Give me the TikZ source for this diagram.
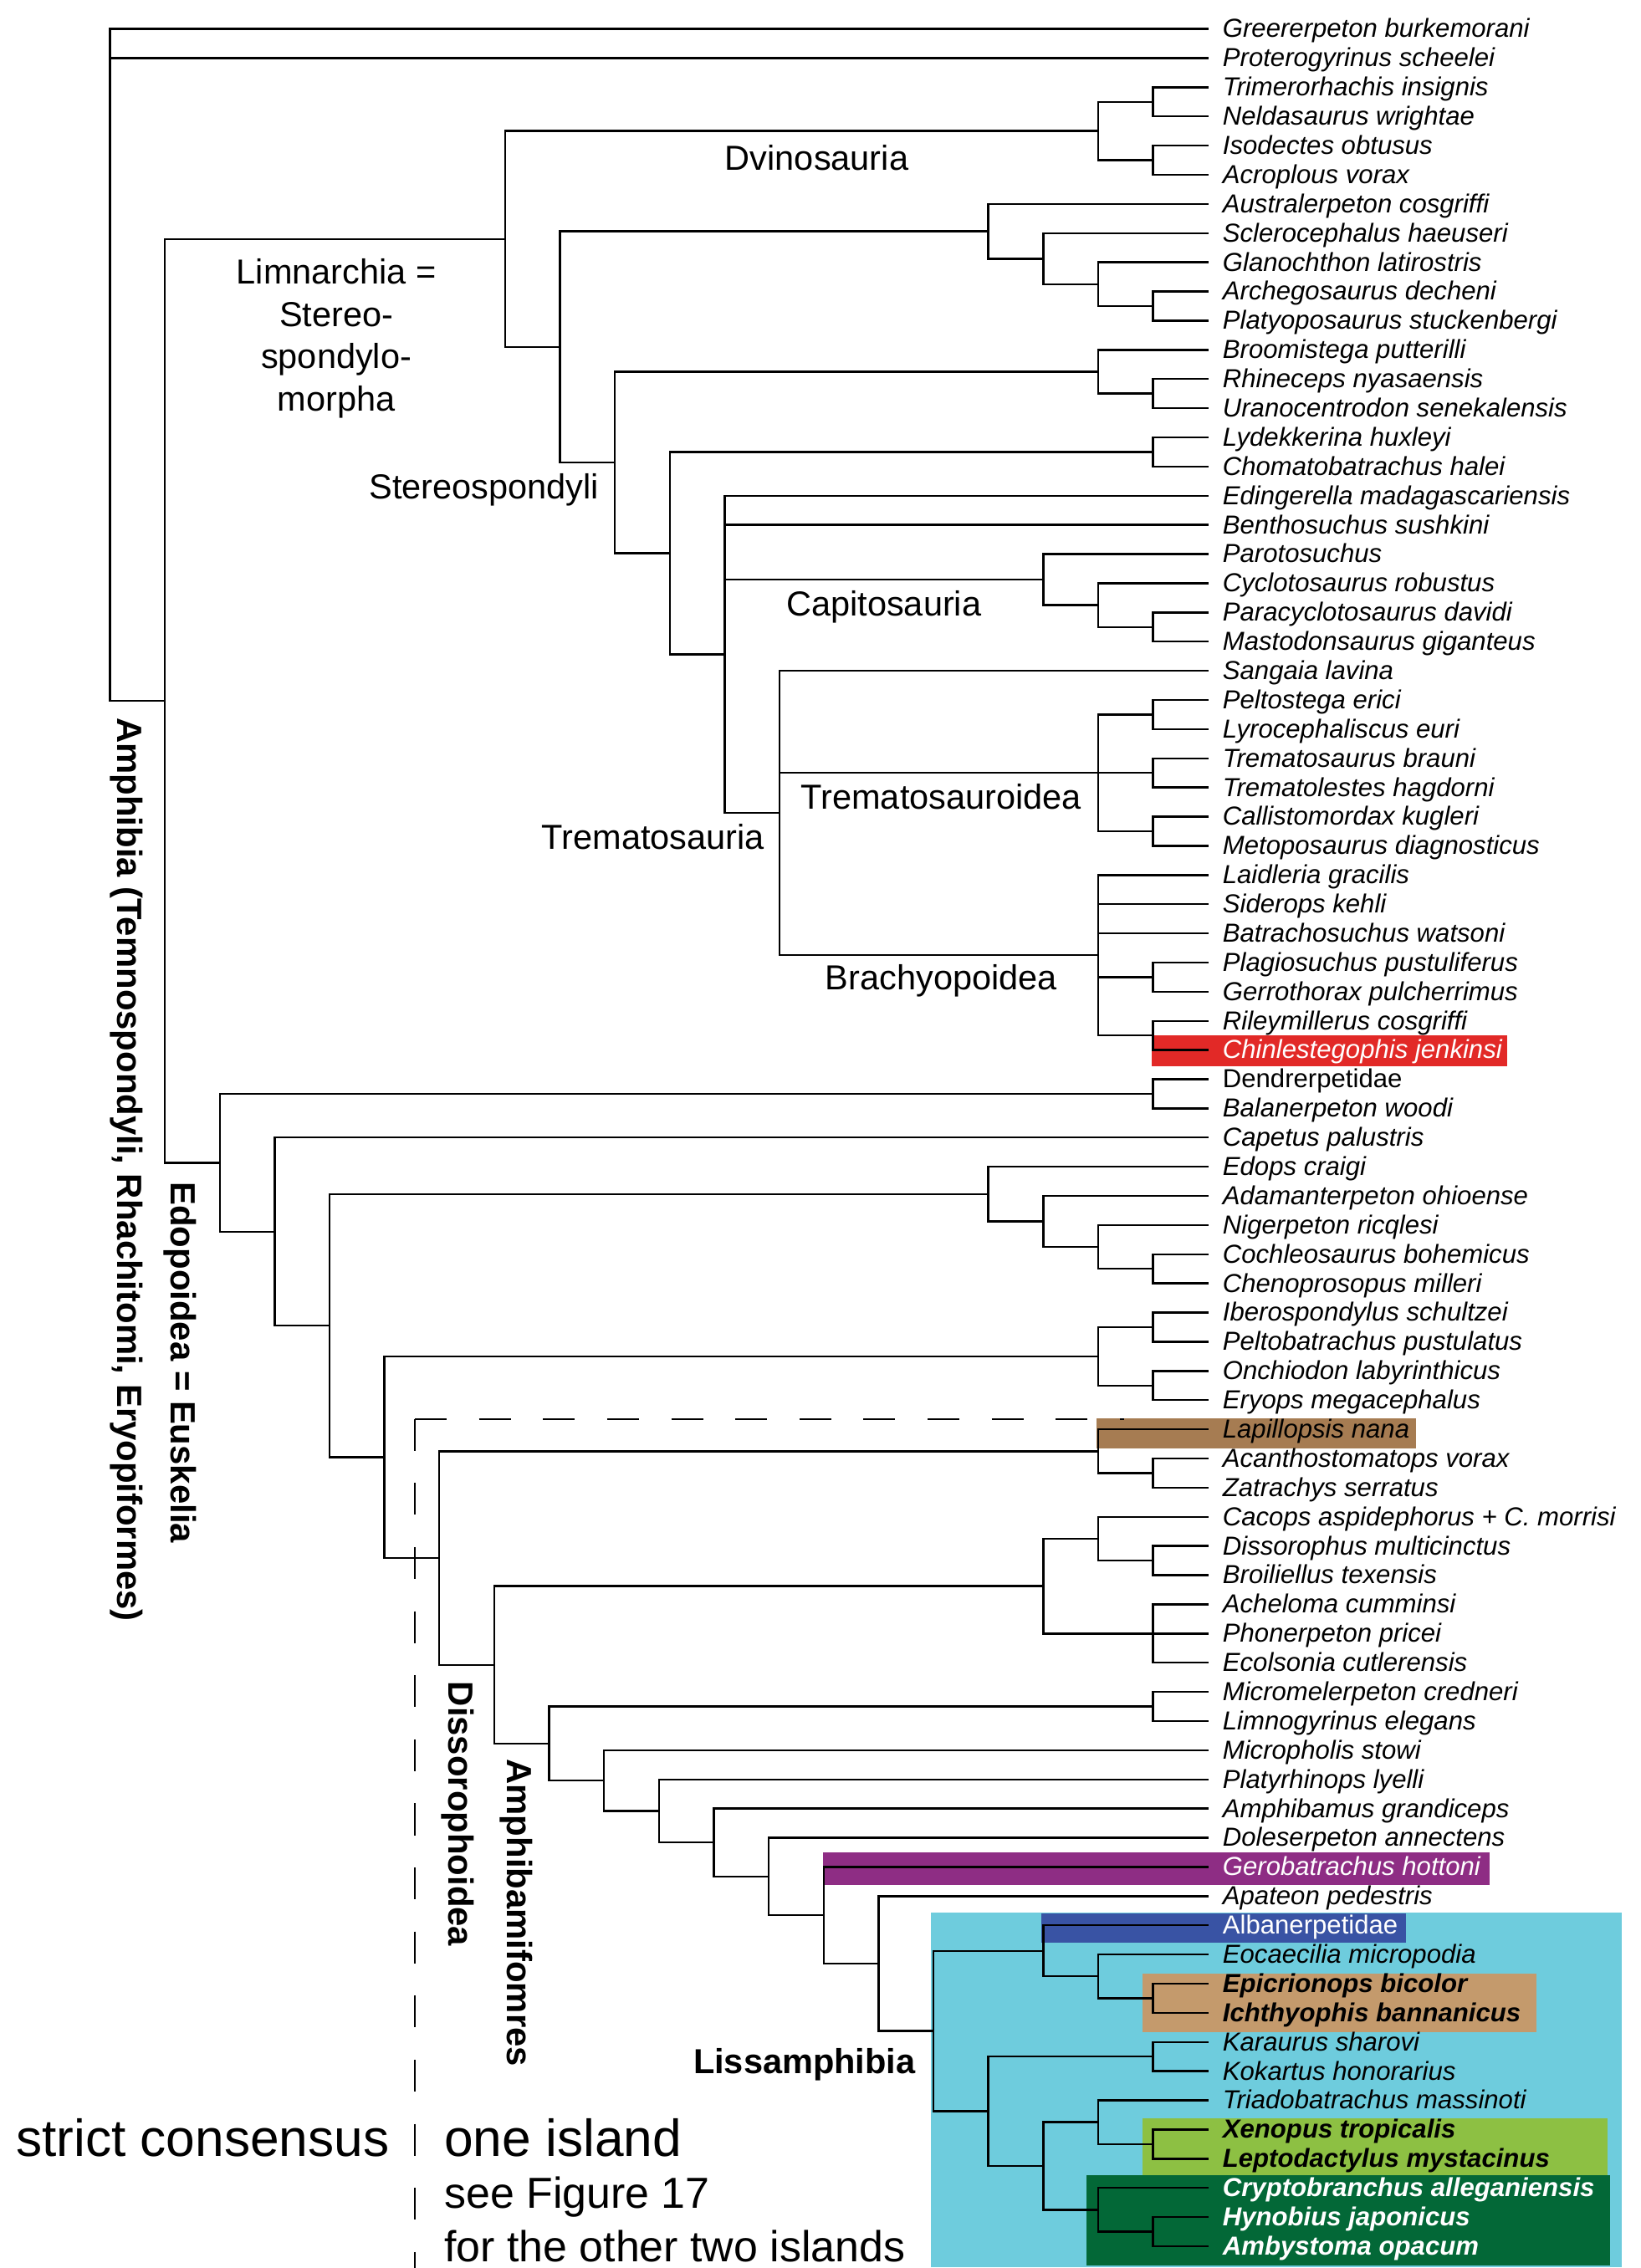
\documentclass[tikz,border=0pt]{standalone}
\usepackage{fontspec}
\setmainfont{Liberation Sans}
\usepackage{tikz}
\usetikzlibrary{backgrounds}
\usepackage{xcolor}

\definecolor{hiRed}{RGB}{226,41,39}
\definecolor{hiBrown}{RGB}{166,124,82}
\definecolor{hiPurple}{RGB}{142,45,132}
\definecolor{hiSky}{RGB}{110,204,221}
\definecolor{hiBlue}{RGB}{57,83,164}
\definecolor{hiTan}{RGB}{196,154,108}
\definecolor{hiLime}{RGB}{141,192,67}
\definecolor{hiForest}{RGB}{3,104,55}

\begin{document}
\begin{tikzpicture}[
  x=1pt, y=-1pt,
  taxon/.style={anchor=west,inner xsep=10pt,inner ysep=0pt,text height=15pt,text depth=3pt,font=\fontsize{18}{20}\selectfont\itshape},
  taxonUp/.style={taxon,font=\fontsize{18}{20}\selectfont\upshape},
  taxonBold/.style={taxon,font=\fontsize{18}{20}\selectfont\bfseries\itshape},
  cladeName/.style={anchor=base,inner sep=0pt,font=\fontsize{24}{29.3}\selectfont},
  sideName/.style={rotate=-90,anchor=base west,inner sep=0pt,font=\fontsize{24.2}{24}\selectfont\bfseries},
  noteBig/.style={anchor=base west,inner sep=0pt,font=\fontsize{36}{36}\selectfont},
  noteSmall/.style={anchor=base west,inner sep=0pt,font=\fontsize{30}{30}\selectfont},
  branch/.style={line width=1.4pt,line cap=rect,to path={|- (\tikztotarget)}},
  islandLine/.style={line width=1.4pt,dash pattern=on 22pt off 22.3pt}]

  \useasboundingbox (0,0) rectangle (1134,1568);

  % taxa
  \node[taxon] (tGreererpeton) at (835,20.00) {Greererpeton burkemorani};
  \node[taxon] (tProterogyrinus) at (835,40.17) {Proterogyrinus scheelei};
  \node[taxon] (tTrimerorhachis) at (835,60.34) {Trimerorhachis insignis};
  \node[taxon] (tNeldasaurus) at (835,80.51) {Neldasaurus wrightae};
  \node[taxon] (tIsodectes) at (835,100.68) {Isodectes obtusus};
  \node[taxon] (tAcroplous) at (835,120.85) {Acroplous vorax};
  \node[taxon] (tAustralerpeton) at (835,141.02) {Australerpeton cosgriffi};
  \node[taxon] (tSclerocephalus) at (835,161.19) {Sclerocephalus haeuseri};
  \node[taxon] (tGlanochthon) at (835,181.36) {Glanochthon latirostris};
  \node[taxon] (tArchegosaurus) at (835,201.53) {Archegosaurus decheni};
  \node[taxon] (tPlatyoposaurus) at (835,221.70) {Platyoposaurus stuckenbergi};
  \node[taxon] (tBroomistega) at (835,241.87) {Broomistega putterilli};
  \node[taxon] (tRhineceps) at (835,262.04) {Rhineceps nyasaensis};
  \node[taxon] (tUranocentrodon) at (835,282.21) {Uranocentrodon senekalensis};
  \node[taxon] (tLydekkerina) at (835,302.38) {Lydekkerina huxleyi};
  \node[taxon] (tChomatobatrachus) at (835,322.55) {Chomatobatrachus halei};
  \node[taxon] (tEdingerella) at (835,342.72) {Edingerella madagascariensis};
  \node[taxon] (tBenthosuchus) at (835,362.89) {Benthosuchus sushkini};
  \node[taxon] (tParotosuchus) at (835,383.06) {Parotosuchus};
  \node[taxon] (tCyclotosaurus) at (835,403.23) {Cyclotosaurus robustus};
  \node[taxon] (tParacyclotosaurus) at (835,423.40) {Paracyclotosaurus davidi};
  \node[taxon] (tMastodonsaurus) at (835,443.57) {Mastodonsaurus giganteus};
  \node[taxon] (tSangaia) at (835,463.74) {Sangaia lavina};
  \node[taxon] (tPeltostega) at (835,483.91) {Peltostega erici};
  \node[taxon] (tLyrocephaliscus) at (835,504.08) {Lyrocephaliscus euri};
  \node[taxon] (tTrematosaurus) at (835,524.25) {Trematosaurus brauni};
  \node[taxon] (tTrematolestes) at (835,544.42) {Trematolestes hagdorni};
  \node[taxon] (tCallistomordax) at (835,564.59) {Callistomordax kugleri};
  \node[taxon] (tMetoposaurus) at (835,584.76) {Metoposaurus diagnosticus};
  \node[taxon] (tLaidleria) at (835,604.93) {Laidleria gracilis};
  \node[taxon] (tSiderops) at (835,625.10) {Siderops kehli};
  \node[taxon] (tBatrachosuchus) at (835,645.27) {Batrachosuchus watsoni};
  \node[taxon] (tPlagiosuchus) at (835,665.44) {Plagiosuchus pustuliferus};
  \node[taxon] (tGerrothorax) at (835,685.61) {Gerrothorax pulcherrimus};
  \node[taxon] (tRileymillerus) at (835,705.78) {Rileymillerus cosgriffi};
  \node[taxon,text=white] (tChinlestegophis) at (835,725.95) {Chinlestegophis jenkinsi};
  \node[taxonUp] (tDendrerpetidae) at (835,746.12) {Dendrerpetidae};
  \node[taxon] (tBalanerpeton) at (835,766.29) {Balanerpeton woodi};
  \node[taxon] (tCapetus) at (835,786.46) {Capetus palustris};
  \node[taxon] (tEdops) at (835,806.63) {Edops craigi};
  \node[taxon] (tAdamanterpeton) at (835,826.80) {Adamanterpeton ohioense};
  \node[taxon] (tNigerpeton) at (835,846.97) {Nigerpeton ricqlesi};
  \node[taxon] (tCochleosaurus) at (835,867.14) {Cochleosaurus bohemicus};
  \node[taxon] (tChenoprosopus) at (835,887.31) {Chenoprosopus milleri};
  \node[taxon] (tIberospondylus) at (835,907.48) {Iberospondylus schultzei};
  \node[taxon] (tPeltobatrachus) at (835,927.65) {Peltobatrachus pustulatus};
  \node[taxon] (tOnchiodon) at (835,947.82) {Onchiodon labyrinthicus};
  \node[taxon] (tEryops) at (835,967.99) {Eryops megacephalus};
  \node[taxon] (tLapillopsis) at (835,988.16) {Lapillopsis nana};
  \node[taxon] (tAcanthostomatops) at (835,1008.33) {Acanthostomatops vorax};
  \node[taxon] (tZatrachys) at (835,1028.50) {Zatrachys serratus};
  \node[taxon] (tCacops) at (835,1048.67) {Cacops aspidephorus + C. morrisi};
  \node[taxon] (tDissorophus) at (835,1068.84) {Dissorophus multicinctus};
  \node[taxon] (tBroiliellus) at (835,1089.01) {Broiliellus texensis};
  \node[taxon] (tAcheloma) at (835,1109.18) {Acheloma cumminsi};
  \node[taxon] (tPhonerpeton) at (835,1129.35) {Phonerpeton pricei};
  \node[taxon] (tEcolsonia) at (835,1149.52) {Ecolsonia cutlerensis};
  \node[taxon] (tMicromelerpeton) at (835,1169.69) {Micromelerpeton credneri};
  \node[taxon] (tLimnogyrinus) at (835,1189.86) {Limnogyrinus elegans};
  \node[taxon] (tMicropholis) at (835,1210.03) {Micropholis stowi};
  \node[taxon] (tPlatyrhinops) at (835,1230.20) {Platyrhinops lyelli};
  \node[taxon] (tAmphibamus) at (835,1250.37) {Amphibamus grandiceps};
  \node[taxon] (tDoleserpeton) at (835,1270.54) {Doleserpeton annectens};
  \node[taxon,text=white] (tGerobatrachus) at (835,1290.71) {Gerobatrachus hottoni};
  \node[taxon] (tApateon) at (835,1310.88) {Apateon pedestris};
  \node[taxonUp,text=white] (tAlbanerpetidae) at (835,1331.05) {Albanerpetidae};
  \node[taxon] (tEocaecilia) at (835,1351.22) {Eocaecilia micropodia};
  \node[taxonBold] (tEpicrionops) at (835,1371.39) {Epicrionops bicolor};
  \node[taxonBold] (tIchthyophis) at (835,1391.56) {Ichthyophis bannanicus};
  \node[taxon] (tKaraurus) at (835,1411.73) {Karaurus sharovi};
  \node[taxon] (tKokartus) at (835,1431.90) {Kokartus honorarius};
  \node[taxon] (tTriadobatrachus) at (835,1452.07) {Triadobatrachus massinoti};
  \node[taxonBold] (tXenopus) at (835,1472.24) {Xenopus tropicalis};
  \node[taxonBold] (tLeptodactylus) at (835,1492.41) {Leptodactylus mystacinus};
  \node[taxonBold,text=white] (tCryptobranchus) at (835,1512.58) {Cryptobranchus alleganiensis};
  \node[taxonBold,text=white] (tHynobius) at (835,1532.75) {Hynobius japonicus};
  \node[taxonBold,text=white] (tAmbystoma) at (835,1552.92) {Ambystoma opacum};

  % highlighted taxa
  \begin{scope}[on background layer]
    \fill[hiRed] (796,716) rectangle (1042,737);
    \fill[hiBrown] (758,980.5) rectangle (979,1001.5);
    \fill[hiPurple] (569,1280.5) rectangle (1029.5,1303);
    \fill[hiSky] (643.7,1322) rectangle (1121,1567.5);
    \fill[hiBlue] (720,1323) rectangle (972,1343);
    \fill[hiTan] (790,1364.3) rectangle (1062,1404.8);
    \fill[hiLime] (790,1464.5) rectangle (1111,1503.7);
    \fill[hiForest] (751,1503.7) rectangle (1113,1566);
  \end{scope}

  % root and Limnarchia
  \coordinate (root) at (76,20.00);
  \coordinate (nAmphibia) at (113.95,484.54);
  \draw [branch] (root) edge (tGreererpeton.west) edge (tProterogyrinus.west) edge (nAmphibia);
  \coordinate (nLimnarchia) at (349.2,165.22);
  \coordinate (nEdopoidea) at (151.9,803.85);
  \draw [branch] (nAmphibia) edge (nLimnarchia) edge (nEdopoidea);
  \coordinate (nDvinosauria) at (759.1,90.60);
  \coordinate (nStereoA) at (387.2,239.83);
  \draw [branch] (nLimnarchia) edge (nDvinosauria) edge (nStereoA);
  \coordinate (nTrimero) at (797.05,70.43);
  \coordinate (nIsodectes) at (797.05,110.77);
  \draw [branch] (nDvinosauria) edge (nTrimero) edge (nIsodectes);
  \draw [branch] (nTrimero) edge (tTrimerorhachis.west) edge (tNeldasaurus.west);
  \draw [branch] (nIsodectes) edge (tIsodectes.west) edge (tAcroplous.west);
  \coordinate (nAustral) at (683.2,159.93);
  \coordinate (nStereospondyli) at (425.1,319.72);
  \draw [branch] (nStereoA) edge (nAustral) edge (nStereospondyli);
  \coordinate (nScleroc) at (721.15,178.84);
  \draw [branch] (nAustral) edge (tAustralerpeton.west) edge (nScleroc);
  \coordinate (nGlanoch) at (759.1,196.49);
  \draw [branch] (nScleroc) edge (tSclerocephalus.west) edge (nGlanoch);
  \coordinate (nArchego) at (797.05,211.62);
  \draw [branch] (nGlanoch) edge (tGlanochthon.west) edge (nArchego);
  \draw [branch] (nArchego) edge (tArchegosaurus.west) edge (tPlatyoposaurus.west);

  % Stereospondyli
  \coordinate (nBroomistega) at (759.1,257.00);
  \coordinate (nLydekkerina) at (463.1,382.43);
  \draw [branch] (nStereospondyli) edge (nBroomistega) edge (nLydekkerina);
  \coordinate (nRhineceps) at (797.05,272.13);
  \draw [branch] (nBroomistega) edge (tBroomistega.west) edge (nRhineceps);
  \draw [branch] (nRhineceps) edge (tRhineceps.west) edge (tUranocentrodon.west);
  \coordinate (nLydChom) at (797.05,312.47);
  \coordinate (nTrematoA) at (501.0,452.40);
  \draw [branch] (nLydekkerina) edge (nLydChom) edge (nTrematoA);
  \draw [branch] (nLydChom) edge (tLydekkerina.west) edge (tChomatobatrachus.west);
  \coordinate (nCapitosauria) at (721.15,400.71);
  \coordinate (nTrematosauria) at (539.0,562.07);
  \draw [branch] (nTrematoA) edge (tEdingerella.west) edge (tBenthosuchus.west) edge (nCapitosauria) edge (nTrematosauria);
  \coordinate (nCyclotos) at (759.1,418.36);
  \draw [branch] (nCapitosauria) edge (tParotosuchus.west) edge (nCyclotos);
  \coordinate (nParacyc) at (797.05,433.49);
  \draw [branch] (nCyclotos) edge (tCyclotosaurus.west) edge (nParacyc);
  \draw [branch] (nParacyc) edge (tParacyclotosaurus.west) edge (tMastodonsaurus.west);

  % Trematosauria
  \coordinate (nTrematosauroidea) at (759.1,534.34);
  \coordinate (nBrachyopoidea) at (759.1,660.40);
  \draw [branch] (nTrematosauria) edge (tSangaia.west) edge (nTrematosauroidea) edge (nBrachyopoidea);
  \coordinate (nPeltostega) at (797.05,494.00);
  \coordinate (nTrematosaurus) at (797.05,534.34);
  \coordinate (nCallisto) at (797.05,574.68);
  \draw [branch] (nTrematosauroidea) edge (nPeltostega) edge (nTrematosaurus) edge (nCallisto);
  \draw [branch] (nPeltostega) edge (tPeltostega.west) edge (tLyrocephaliscus.west);
  \draw [branch] (nTrematosaurus) edge (tTrematosaurus.west) edge (tTrematolestes.west);
  \draw [branch] (nCallisto) edge (tCallistomordax.west) edge (tMetoposaurus.west);
  \coordinate (nPlagiosuchus) at (797.05,675.53);
  \coordinate (nRileymillerus) at (797.05,715.87);
  \draw [branch] (nBrachyopoidea) edge (tLaidleria.west) edge (tSiderops.west) edge (tBatrachosuchus.west) edge (nPlagiosuchus) edge (nRileymillerus);
  \draw [branch] (nPlagiosuchus) edge (tPlagiosuchus.west) edge (tGerrothorax.west);
  \draw [branch] (nRileymillerus) edge (tRileymillerus.west) edge (tChinlestegophis.west);

  % Edopoidea
  \coordinate (nDendrerp) at (797.05,756.21);
  \coordinate (nK3) at (189.85,851.48);
  \draw [branch] (nEdopoidea) edge (nDendrerp) edge (nK3);
  \draw [branch] (nDendrerp) edge (tDendrerpetidae.west) edge (tBalanerpeton.west);
  \coordinate (nK4) at (227.8,916.50);
  \draw [branch] (nK3) edge (tCapetus.west) edge (nK4);
  \coordinate (nEdops) at (683.2,825.54);
  \coordinate (nK5) at (265.75,1007.45);
  \draw [branch] (nK4) edge (nEdops) edge (nK5);
  \coordinate (nAdamant) at (721.15,844.45);
  \draw [branch] (nEdops) edge (tEdops.west) edge (nAdamant);
  \coordinate (nNigerp) at (759.1,862.10);
  \draw [branch] (nAdamant) edge (tAdamanterpeton.west) edge (nNigerp);
  \coordinate (nCochleo) at (797.05,877.23);
  \draw [branch] (nNigerp) edge (tNigerpeton.west) edge (nCochleo);
  \draw [branch] (nCochleo) edge (tCochleosaurus.west) edge (tChenoprosopus.west);
  \coordinate (nEryops) at (759.1,937.74);
  \coordinate (nK6) at (303.7,1077.15);
  \draw [branch] (nK5) edge (nEryops) edge (nK6);
  \coordinate (nIberosp) at (797.05,917.57);
  \coordinate (nOnchiodon) at (797.05,957.91);
  \draw [branch] (nEryops) edge (nIberosp) edge (nOnchiodon);
  \draw [branch] (nIberosp) edge (tIberospondylus.west) edge (tPeltobatrachus.west);
  \draw [branch] (nOnchiodon) edge (tOnchiodon.west) edge (tEryops.west);

  % Dissorophoidea
  \coordinate (nLapillopsis) at (759.1,1003.29);
  \coordinate (nK7) at (341.65,1151.00);
  \draw [branch] (nK6) edge (nLapillopsis) edge (nK7);
  \coordinate (nAcantho) at (797.05,1018.42);
  \draw [branch] (nLapillopsis) edge (tLapillopsis.west) edge (nAcantho);
  \draw [branch] (nAcantho) edge (tAcanthostomatops.west) edge (tZatrachys.west);
  \coordinate (nDissorophidae) at (721.15,1096.58);
  \coordinate (nK8) at (379.6,1205.41);
  \draw [branch] (nK7) edge (nDissorophidae) edge (nK8);
  \coordinate (nCacops) at (759.1,1063.80);
  \coordinate (nAcheloma) at (797.05,1129.35);
  \draw [branch] (nDissorophidae) edge (nCacops) edge (nAcheloma);
  \coordinate (nDissorophus) at (797.05,1078.93);
  \draw [branch] (nCacops) edge (tCacops.west) edge (nDissorophus);
  \draw [branch] (nDissorophus) edge (tDissorophus.west) edge (tBroiliellus.west);
  \draw [branch] (nAcheloma) edge (tAcheloma.west) edge (tPhonerpeton.west) edge (tEcolsonia.west);
  \coordinate (nMicromel) at (797.05,1179.78);
  \coordinate (nK9) at (417.55,1231.03);
  \draw [branch] (nK8) edge (nMicromel) edge (nK9);
  \draw [branch] (nMicromel) edge (tMicromelerpeton.west) edge (tLimnogyrinus.west);
  \coordinate (nK10) at (455.5,1252.03);
  \draw [branch] (nK9) edge (tMicropholis.west) edge (nK10);
  \coordinate (nK11) at (493.45,1273.85);
  \draw [branch] (nK10) edge (tPlatyrhinops.west) edge (nK11);
  \coordinate (nK12) at (531.4,1297.33);
  \draw [branch] (nK11) edge (tAmphibamus.west) edge (nK12);
  \coordinate (nK13) at (569.35,1324.12);
  \draw [branch] (nK12) edge (tDoleserpeton.west) edge (nK13);
  \coordinate (nK14) at (607.3,1357.53);
  \draw [branch] (nK13) edge (tGerobatrachus.west) edge (nK14);

  % Lissamphibia
  \coordinate (nLissamphibia) at (645.25,1404.17);
  \draw [branch] (nK14) edge (tApateon.west) edge (nLissamphibia);
  \coordinate (nAlbanerp) at (721.15,1348.70);
  \coordinate (nBatrachia) at (683.2,1459.64);
  \draw [branch] (nLissamphibia) edge (nAlbanerp) edge (nBatrachia);
  \coordinate (nEocaecilia) at (759.1,1366.35);
  \draw [branch] (nAlbanerp) edge (tAlbanerpetidae.west) edge (nEocaecilia);
  \coordinate (nEpicrionops) at (797.05,1381.48);
  \draw [branch] (nEocaecilia) edge (tEocaecilia.west) edge (nEpicrionops);
  \draw [branch] (nEpicrionops) edge (tEpicrionops.west) edge (tIchthyophis.west);
  \coordinate (nKaraurus) at (797.05,1421.82);
  \coordinate (nBatrA) at (721.15,1497.46);
  \draw [branch] (nBatrachia) edge (nKaraurus) edge (nBatrA);
  \draw [branch] (nKaraurus) edge (tKaraurus.west) edge (tKokartus.west);
  \coordinate (nSalientia) at (759.1,1467.20);
  \coordinate (nCaudata) at (759.1,1527.71);
  \draw [branch] (nBatrA) edge (nSalientia) edge (nCaudata);
  \coordinate (nXenopus) at (797.05,1482.33);
  \draw [branch] (nSalientia) edge (tTriadobatrachus.west) edge (nXenopus);
  \draw [branch] (nXenopus) edge (tXenopus.west) edge (tLeptodactylus.west);
  \coordinate (nHynobius) at (797.05,1542.84);
  \draw [branch] (nCaudata) edge (tCryptobranchus.west) edge (nHynobius);
  \draw [branch] (nHynobius) edge (tHynobius.west) edge (tAmbystoma.west);

  % island of the strict consensus
  \coordinate (dashCorner) at (286.8,981);
  \coordinate (dashEnd) at (777,981);
  \coordinate (dashFoot) at (286.8,1568);
  \draw [islandLine] (dashCorner) -- (dashEnd);
  \draw [islandLine] (dashCorner) -- (dashFoot);

  % clade names
  \node[cladeName] (lDvinosauria) at (564.6,117.5) {Dvinosauria};
  \node[cladeName,align=center] (lLimnarchia) at (232.5,284.1) {Limnarchia =\\Stereo-\\spondylo-\\morpha};
  \node[cladeName] (lStereospondyli) at (334.6,344.7) {Stereospondyli};
  \node[cladeName] (lCapitosauria) at (611,425.7) {Capitosauria};
  \node[cladeName] (lTrematosauroidea) at (650.6,559.3) {Trematosauroidea};
  \node[cladeName] (lTrematosauria) at (451.5,587) {Trematosauria};
  \node[cladeName] (lBrachyopoidea) at (650.6,684) {Brachyopoidea};
  \node[cladeName,font=\fontsize{24}{24}\selectfont\bfseries] (lLissamphibia) at (556,1433.7) {Lissamphibia};
  \node[sideName] (lAmphibia) at (81,496) {Amphibia (Temnospondyli, Rhachitomi, Eryopiformes)};
  \node[sideName] (lEdopoidea) at (118,817) {Edopoidea = Euskelia};
  \node[sideName] (lDissorophoidea) at (310.3,1162.4) {Dissorophoidea};
  \node[sideName] (lAmphibamiformes) at (350.8,1216) {Amphibamifomres};

  % notes
  \node[noteBig] (noteStrict) at (10.8,1491) {strict consensus};
  \node[noteBig] (noteIsland) at (307,1491) {one island};
  \node[noteSmall] (noteFigure) at (307,1526.8) {see Figure 17};
  \node[noteSmall] (noteOthers) at (307,1563.4) {for the other two islands};
\end{tikzpicture}
\end{document}
